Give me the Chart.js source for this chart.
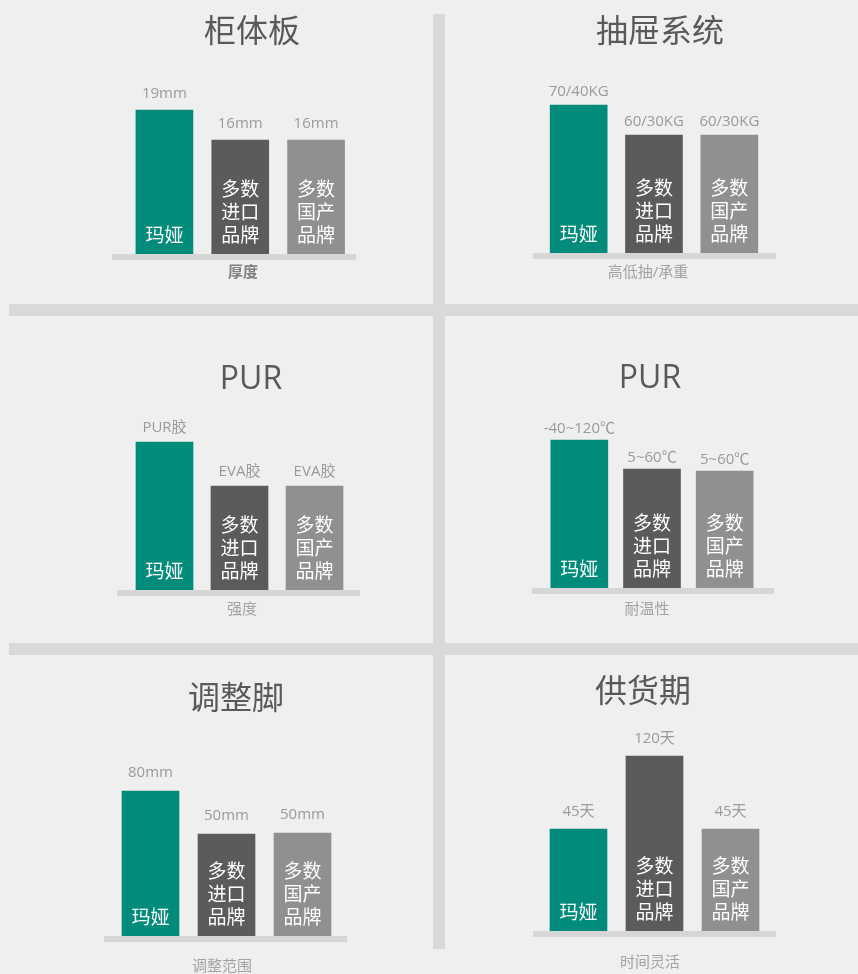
<!DOCTYPE html>
<html>
<head>
<meta charset="utf-8">
<script src="https://cdn.jsdelivr.net/npm/chart.js@4.4.0/dist/chart.umd.min.js"></script>
<style>
  html, body { margin: 0; padding: 0; background: #efefef; }
  #page { position: relative; width: 858px; height: 974px; overflow: hidden; }
  .sep { position: absolute; background: #d9d9d9; }
  canvas { position: absolute; left: 0; top: 0; }
</style>
</head>
<body>
<div id="page">
  <div class="sep" style="left:9px;top:304px;width:849px;height:12px"></div>
  <div class="sep" style="left:9px;top:643px;width:849px;height:12px"></div>
  <div class="sep" style="left:433px;top:14px;width:12px;height:935px"></div>
</div>
<script>
// brands shown on each bar
const brands = ["玛娅", "多数进口品牌", "多数国产品牌"];
const brandLines = [["玛娅"], ["多数", "进口", "品牌"], ["多数", "国产", "品牌"]];

const titles = ["柜体板", "抽屉系统", "PUR", "PUR", "调整脚", "供货期"];
const axisNames = ["厚度", "高低抽/承重", "强度", "耐温性", "调整范围", "时间灵活"];

// text above each bar
const thicknessLabels = ["19mm", "16mm", "16mm"];
const drawerLabels = ["70/40KG", "60/30KG", "60/30KG"];
const glueLabels = ["PUR胶", "EVA胶", "EVA胶"];
const tempLabels = ["-40~120℃", "5~60℃", "5~60℃"];
const footLabels = ["80mm", "50mm", "50mm"];
const supplyLabels = ["45天", "120天", "45天"];

// bar heights (scale 0-200)
const thicknessValues = [144, 114, 114];
const drawerValues = [148, 118, 118];
const glueValues = [148, 104, 104];
const tempValues = [148, 119, 117];
const footValues = [145, 102, 103];
const supplyValues = [102, 175, 102];

const colors = ["#008b7a", "#5b5b5b", "#909090"];
const FONT = '"Open Sans", "Noto Sans CJK SC", sans-serif';

// per panel placement: plot area [left, right, bottom], base band [x1, x2], title / axis name centres, label gap
const panels = [
  { labels: thicknessLabels, values: thicknessValues, area: [126.5, 354, 254], band: [112, 356], title: [252, 33], axis: [243, 273], gap: 16 },
  { labels: drawerLabels, values: drawerValues, area: [541, 767, 253], band: [533, 776], title: [660, 33], axis: [648, 273], gap: 13 },
  { labels: glueLabels, values: glueValues, area: [127, 352, 590], band: [117, 360], title: [251, 380], axis: [242, 610], gap: 14 },
  { labels: tempLabels, values: tempValues, area: [543, 761, 588], band: [532, 774], title: [650, 379], axis: [647, 610], gap: 11 },
  { labels: footLabels, values: footValues, area: [112.5, 340.5, 936], band: [104, 347], title: [236, 700], axis: [222, 967], gap: 18 },
  { labels: supplyLabels, values: supplyValues, area: [540.5, 768.5, 931], band: [533, 776], title: [643, 693], axis: [650, 963], gap: 17 },
];

const W = 858, H = 974, YMAX = 200;

const panelText = {
  id: "panelText",
  beforeDatasetsDraw(chart, args, opts) {
    const p = opts.panel;
    const ctx = chart.ctx;
    ctx.save();
    ctx.fillStyle = "#d6d6d6";
    ctx.fillRect(p.band[0], p.area[2], p.band[1] - p.band[0], 6);
    ctx.restore();
  },
  afterDatasetsDraw(chart, args, opts) {
    const p = opts.panel;
    const ctx = chart.ctx;
    const meta = chart.getDatasetMeta(0);
    ctx.save();
    ctx.textAlign = "center";
    ctx.textBaseline = "middle";

    ctx.fillStyle = "#595959";
    ctx.font = "32px " + FONT;
    ctx.fillText(opts.title, p.title[0], p.title[1]);

    ctx.fillStyle = opts.index === 0 ? "#808080" : "#a3a3a3";
    ctx.font = (opts.index === 0 ? "bold " : "") + "15px " + FONT;
    ctx.fillText(opts.axisName, p.axis[0], p.axis[1]);

    meta.data.forEach((bar, i) => {
      ctx.fillStyle = "#9a9a9a";
      ctx.font = "15px " + FONT;
      ctx.fillText(p.labels[i], bar.x, bar.y - p.gap);

      ctx.fillStyle = "#ffffff";
      ctx.font = "19px " + FONT;
      const lines = brandLines[i];
      lines.forEach((ln, k) => {
        const fromBottom = lines.length - 1 - k;
        ctx.fillText(ln, bar.x, bar.base - 17 - fromBottom * 23);
      });
    });
    ctx.restore();
  }
};

panels.forEach((p, idx) => {
  const canvas = document.createElement("canvas");
  canvas.width = W;
  canvas.height = H;
  document.getElementById("page").appendChild(canvas);
  new Chart(canvas, {
    type: "bar",
    data: {
      labels: brands,
      datasets: [{
        data: p.values,
        backgroundColor: colors,
        borderWidth: 0,
        barThickness: 57,
      }],
    },
    options: {
      responsive: false,
      animation: false,
      devicePixelRatio: 1,
      layout: {
        padding: { left: p.area[0], right: W - p.area[1], top: p.area[2] - YMAX, bottom: H - p.area[2] },
      },
      scales: {
        x: { display: false },
        y: { display: false, min: 0, max: YMAX },
      },
      plugins: {
        legend: { display: false },
        tooltip: { enabled: false },
        panelText: { panel: p, title: titles[idx], axisName: axisNames[idx], index: idx },
      },
    },
    plugins: [panelText],
  });
});
</script>
</body>
</html>
